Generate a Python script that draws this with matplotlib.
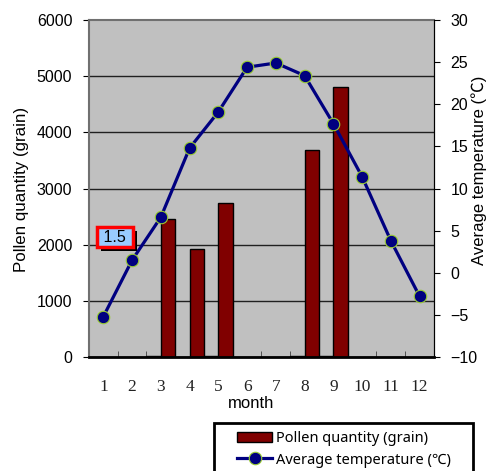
import matplotlib.pyplot as plt
import matplotlib.patheffects as pe
from matplotlib.patches import Rectangle
import numpy as np

months = [1, 2, 3, 4, 5, 6, 7, 8, 9, 10, 11, 12]
pollen = [0, 0, 2450, 1930, 2740, 0, 0, 3690, 4800, 0, 0, 0]
# near-zero companion series seen as slivers at the baseline
other = [0, 0, 25, 0, 25, 0, 0, 25, 25, 0, 0, 0]
temperature = [-5.2, 1.5, 6.6, 14.8, 19.1, 24.4, 24.9, 23.4, 17.7, 11.4, 3.8, -2.8]

sans = ['Liberation Sans', 'DejaVu Sans']
cjk = ['Liberation Sans', 'Noto Sans CJK SC', 'DejaVu Sans']

fig = plt.figure(figsize=(4.93, 4.71), dpi=100)
ax = fig.add_axes([0.1805, 0.242, 0.6998, 0.7155])
ax.set_facecolor('#C0C0C0')

x = np.array(months)
ax.bar(x - 0.25, other, width=0.5, color='#800000', edgecolor='black', linewidth=1, zorder=2)
bars = ax.bar(x + 0.25, pollen, width=0.5, color='#800000', edgecolor='black',
              linewidth=1, zorder=2, label='Pollen quantity (grain)')

ax.set_xlim(0.5, 12.5)
ax.set_ylim(0, 6000)
ax.set_yticks(range(0, 6001, 1000))
for v in range(1000, 6000, 1000):
    ax.axhline(v, color='#202020', linewidth=1, zorder=1)

ax.set_xticks(months)
ax.set_xticklabels([str(m) for m in months], family='Liberation Serif', fontsize=12.5, color='#222222')
ax.set_xticks(np.arange(1.5, 12.5, 1), minor=True)
ax.tick_params(axis='x', which='major', length=0, pad=16)
ax.tick_params(axis='x', which='minor', direction='in', length=4, color='#404040')
ax.tick_params(axis='y', length=4, pad=8, labelsize=11.5)
for lab in ax.get_yticklabels():
    lab.set_family(sans)

ax.spines['left'].set_color('#707070')
ax.spines['left'].set_linewidth(1.5)
ax.spines['top'].set_color('#707070')
ax.spines['top'].set_linewidth(1.5)
ax.spines['bottom'].set_linewidth(2)

ax.set_xlabel('month', family=sans, fontsize=12)
ax.xaxis.label.set_va('center')
ax.xaxis.set_label_coords(0.471, -0.139)
ax.set_ylabel('Pollen quantity (grain)', family=sans, fontsize=12.2)
ax.yaxis.label.set_va('center')
ax.yaxis.set_label_coords(-0.195, 0.497)

ax2 = ax.twinx()
line, = ax2.plot(months, temperature, color='#000080', linewidth=2.3, marker='o',
                 markersize=9, markerfacecolor='#000080', markeredgecolor='#9ACD32',
                 markeredgewidth=0.8, zorder=3, label='Average temperature (℃)')
ax2.set_ylim(-10, 30)
ax2.set_yticks(range(-10, 31, 5))
ax2.tick_params(axis='y', length=4, pad=8, labelsize=11.5)
for lab in ax2.get_yticklabels():
    lab.set_family(sans)
ax2.set_ylabel('Average temperature (℃)', family=cjk, fontsize=12)
ax2.yaxis.label.set_va('center')
ax2.yaxis.set_label_coords(1.13, 0.555)
for s in ['left', 'top', 'bottom']:
    ax2.spines[s].set_visible(False)

# data label with shadow for month 2
ann = ax2.annotate(' 1.5 ', xy=(2, temperature[1]), xytext=(-12.5, 16.5), textcoords='offset points',
                   ha='center', va='center', fontsize=11.5, color='black', family=sans,
                   bbox=dict(boxstyle='square,pad=0.15', facecolor='#99CCFF', edgecolor='#FF0000',
                             linewidth=2.5),
                   zorder=5)
ann.get_bbox_patch().set_path_effects([
    pe.SimplePatchShadow(offset=(3, -3), shadow_rgbFace='black', alpha=1),
    pe.Normal(),
])

# legend frame runs past the bottom edge of the picture
fig.patches.append(Rectangle((214 / 493, -0.05), 259 / 493, 0.05 + 48 / 471,
                             transform=fig.transFigure, facecolor='white',
                             edgecolor='black', linewidth=2, zorder=0))
leg = fig.legend([bars, line], ['Pollen quantity (grain)', 'Average temperature (℃)'],
                 loc='upper left', bbox_to_anchor=(237 / 493, 1 - 431 / 471), frameon=False,
                 prop={'family': ['Noto Sans', 'Noto Sans CJK SC'], 'size': 10.5},
                 handlelength=2.4, handletextpad=0.3, borderpad=0, labelspacing=0.45,
                 borderaxespad=0)

fig.savefig('out.png', dpi=100)
